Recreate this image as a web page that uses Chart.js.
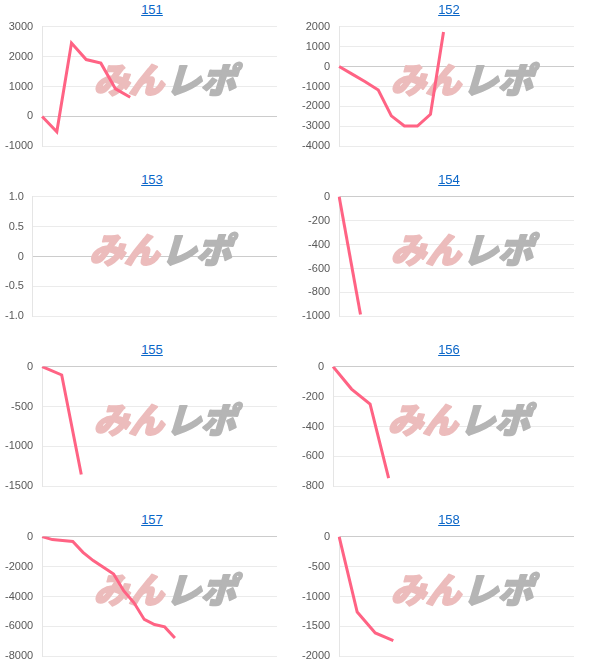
<!DOCTYPE html>
<html>
<head>
<meta charset="utf-8">
<script src="https://cdn.jsdelivr.net/npm/chart.js@4"></script>
<style>
  body { margin: 0; background: #fff; width: 601px; height: 672px; position: relative; overflow: hidden; }
  .cell { position: absolute; width: 300px; height: 170px; }
  .cell a { position: absolute; top: 2px; left: 0; width: 100%; text-align: center; font: 13px "Liberation Sans", Arial, sans-serif; color: #0b66c8; text-decoration: underline; }
  .cell .box { position: absolute; top: 11px; left: -9px; width: 300px; height: 151px; }
</style>
</head>
<body>
<div id="grid"></div>
<script>
// chart ids, in reading order
const titles = ['151', '152', '153', '154', '155', '156', '157', '158'];

// shared x categories (axis is hidden, each chart uses the first n)
const xLabels = ['1','2','3','4','5','6','7','8','9','10','11','12','13','14','15','16','17','18','19','20','21','22','23','24'];
const xCount  = [17, 19, 12, 12, 13, 14, 24, 14];

// series values
const s151 = [0, -510, 2450, 1900, 1780, 920, 640];
const s152 = [0, -380, -760, -1180, -2470, -2980, -2980, -2390, 1730];
const s153 = [];
const s154 = [0, -985];
const s155 = [0, -105, -1350];
const s156 = [0, -150, -251, -744];
const s157 = [0, -200, -265, -330, -1050, -1600, -2050, -2500, -3630, -4420, -5530, -5870, -6030, -6770];
const s158 = [0, -1260, -1608, -1736];
const series = [s151, s152, s153, s154, s155, s156, s157, s158];

// y tick ranges
const yMin  = [-1000, -4000, -1, -1000, -1500, -800, -8000, -2000];
const yMax  = [3000, 2000, 1, 0, 0, 0, 0, 0];
const yStep = [1000, 1000, 0.5, 200, 500, 200, 2000, 500];

const watermark = {
  id: 'watermark',
  beforeDatasetsDraw(chart) {
    const { ctx, chartArea: a } = chart;
    const cx = (a.left + a.right) / 2 + 9, cy = (a.top + a.bottom) / 2 - 7;
    ctx.save();
    ctx.font = '900 35px "Noto Sans CJK JP", sans-serif';
    ctx.textBaseline = 'middle';
    ctx.lineJoin = 'round';
    ctx.lineWidth = 2;
    const w1 = ctx.measureText('みん').width, w2 = ctx.measureText('レポ').width;
    const gap = 2, total = w1 + gap + w2;
    ctx.translate(cx, cy);
    ctx.transform(1, 0, -0.3, 1, 0, 0);
    ctx.fillStyle = ctx.strokeStyle = '#ecbcbc';
    ctx.fillText('みん', -total / 2, 0);
    ctx.strokeText('みん', -total / 2, 0);
    ctx.fillStyle = ctx.strokeStyle = '#b5b5b5';
    ctx.fillText('レポ', -total / 2 + w1 + gap, 0);
    ctx.strokeText('レポ', -total / 2 + w1 + gap, 0);
    ctx.restore();
  }
};

function fmt(step) {
  const dp = step < 1 ? 1 : 0;
  return v => (v === 0 ? '0' : Number(v).toFixed(dp));
}

const grid = document.getElementById('grid');
titles.forEach((t, i) => {
  const col = i % 2, row = Math.floor(i / 2);
  const cell = document.createElement('div');
  cell.className = 'cell';
  cell.style.left = (col ? 299 : 2) + 'px';
  cell.style.top = (row * 170) + 'px';
  cell.innerHTML = `<a href="#">${t}</a><div class="box"><canvas></canvas></div>`;
  grid.appendChild(cell);

  new Chart(cell.querySelector('canvas'), {
    type: 'line',
    data: {
      labels: xLabels.slice(0, xCount[i]),
      datasets: [{ data: series[i], borderColor: 'rgb(255, 99, 132)', borderWidth: 3, pointRadius: 0, tension: 0, fill: false }]
    },
    options: {
      responsive: true, maintainAspectRatio: false, animation: false,
      layout: { padding: { left: 3, right: 16, top: 0, bottom: 0 } },
      plugins: { legend: { display: false }, tooltip: { enabled: false } },
      scales: {
        x: { display: false },
        y: {
          min: yMin[i], max: yMax[i],
          border: { color: 'rgba(0,0,0,0.1)' },
          grid: { drawTicks: false, color: c => (c.tick && c.tick.value === 0 ? 'rgba(0,0,0,0.2)' : 'rgba(0,0,0,0.08)') },
          ticks: { stepSize: yStep[i], padding: 9, color: '#595959', font: { family: '"Liberation Sans", Arial, sans-serif', size: 11 }, callback: fmt(yStep[i]) }
        }
      }
    },
    plugins: [watermark]
  });
});
</script>
</body>
</html>
